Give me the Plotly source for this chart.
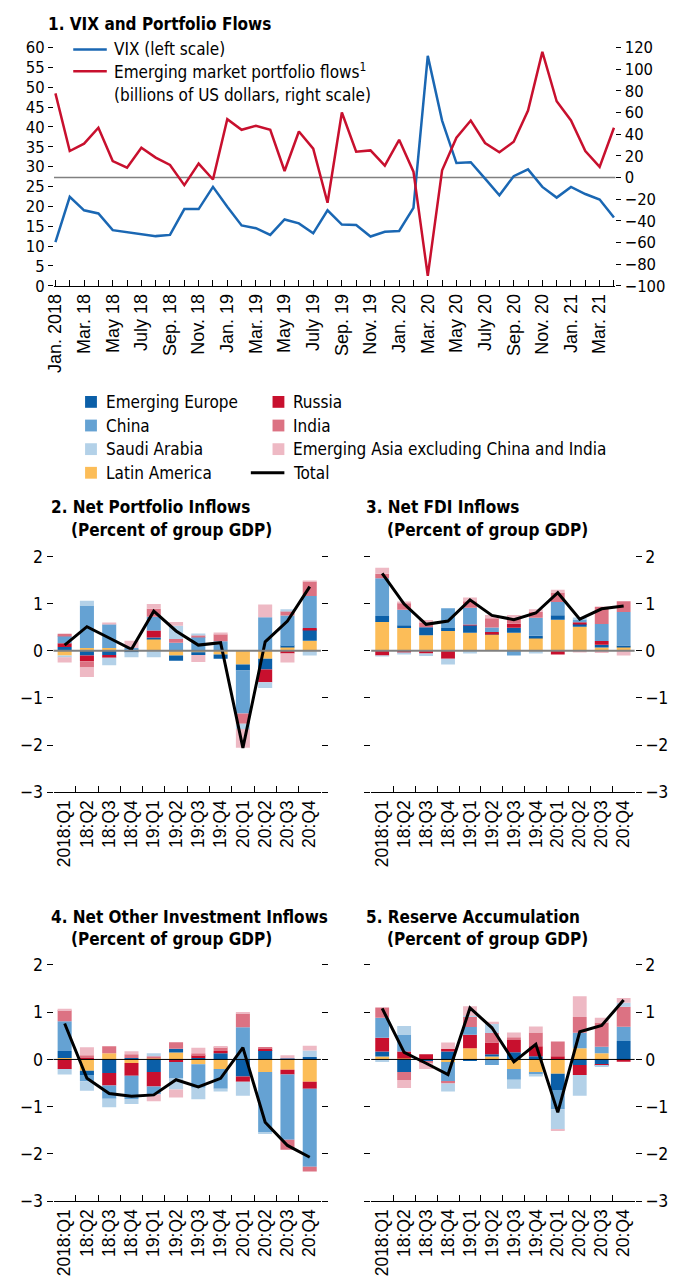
import plotly.graph_objects as go

# page is rendered with an 8px body margin: figure pixel = page pixel - 8
OFF = 8
FW, FH = 681 - OFF, 1286 - OFF

# ---------------- Panel 1 data ----------------
month_labels = ["Jan. 2018", "Mar. 18", "May 18", "July 18", "Sep. 18", "Nov. 18",
                "Jan. 19", "Mar. 19", "May 19", "July 19", "Sep. 19", "Nov. 19",
                "Jan. 20", "Mar. 20", "May 20", "July 20", "Sep. 20", "Nov. 20",
                "Jan. 21", "Mar. 21"]
vix = [11.0, 22.4, 19.0, 18.2, 14.0, 13.5, 13.0, 12.5, 12.8, 19.3, 19.3, 24.9,
       19.9, 15.2, 14.5, 12.8, 16.7, 15.7, 13.2, 19.0, 15.4, 15.3, 12.4, 13.6,
       13.8, 19.6, 57.9, 41.6, 30.9, 31.1, 27.0, 22.8, 27.6, 29.3, 24.9, 22.2,
       24.9, 23.1, 21.7, 17.2]
em_flows = [77.7, 24.4, 31.2, 45.9, 15.2, 9.1, 27.5, 18.3, 11.5, -7.1, 12.8, -1.9,
            53.8, 44.0, 47.7, 44.0, 6.0, 42.5, 26.6, -23.4, 60.0, 23.8, 25.0, 10.9,
            34.8, 5.4, -90.8, 6.6, 36.7, 52.6, 31.8, 23.2, 33.0, 61.8, 116.0, 70.4,
            52.6, 24.4, 9.7, 45.9]

# ---------------- Bar panels data ----------------
quarters = ["2018:Q1", "18:Q2", "18:Q3", "18:Q4", "19:Q1", "19:Q2", "19:Q3", "19:Q4",
            "20:Q1", "20:Q2", "20:Q3", "20:Q4"]
series_names = ["Latin America", "Emerging Europe", "Russia", "China", "India",
                "Saudi Arabia", "Emerging Asia excluding China and India"]

portfolio = {
    "Latin America":   [-0.10, 0.06, 0.06, 0.02, 0.25, -0.10, -0.03, -0.08, -0.29, -0.17, 0.08, 0.21],
    "Emerging Europe": [0.08, -0.10, -0.09, -0.03, 0.03, -0.11, -0.06, -0.09, -0.13, -0.23, 0.02, 0.24],
    "Russia":          [0.08, -0.125, -0.06, 0.0, 0.15, 0.0, 0.0, 0.0, 0.0, -0.27, -0.06, 0.03],
    "China":           [0.16, 0.90, 0.50, 0.04, 0.29, 0.17, 0.29, 0.20, -0.91, 0.71, 0.65, 0.68],
    "India":           [0.04, -0.13, 0.0, 0.0, 0.17, 0.08, 0.04, 0.15, -0.22, 0.0, 0.09, 0.31],
    "Saudi Arabia":    [-0.04, 0.10, -0.16, -0.11, -0.14, 0.28, 0.035, 0.0, -0.11, -0.12, 0.04, -0.10],
    "Emerging Asia excluding China and India":
                       [-0.11, -0.20, 0.02, 0.15, 0.10, 0.08, -0.15, 0.035, -0.40, 0.27, -0.19, 0.015],
}
portfolio_total = [0.12, 0.51, 0.27, 0.03, 0.84, 0.42, 0.12, 0.17, -2.06, 0.19, 0.63, 1.36]

fdi = {
    "Latin America":   [0.61, 0.48, 0.33, 0.42, 0.38, 0.355, 0.38, 0.28, 0.655, 0.51, 0.07, 0.09],
    "Emerging Europe": [0.125, 0.06, 0.17, 0.06, 0.16, 0.01, 0.11, 0.04, 0.10, 0.055, 0.055, 0.02],
    "Russia":          [-0.10, -0.04, -0.06, -0.17, 0.015, 0.03, 0.08, 0.0, -0.08, 0.04, 0.08, 0.0],
    "China":           [0.80, 0.33, 0.0, 0.42, 0.355, 0.10, -0.10, 0.38, 0.28, 0.06, 0.36, 0.71],
    "India":           [0.10, 0.15, 0.10, 0.0, 0.14, 0.195, 0.12, 0.125, 0.20, 0.0, 0.37, 0.23],
    "Saudi Arabia":    [-0.02, -0.035, -0.05, -0.12, -0.06, 0.0, 0.0, -0.06, 0.0, 0.03, 0.0, 0.0],
    "Emerging Asia excluding China and India":
                       [0.125, 0.02, 0.05, 0.0, 0.08, 0.07, 0.07, 0.055, 0.06, -0.03, -0.05, -0.10],
}
fdi_total = [1.64, 0.99, 0.56, 0.63, 1.08, 0.75, 0.66, 0.80, 1.23, 0.67, 0.89, 0.95]

other_inv = {
    "Latin America":   [0.03, -0.24, 0.13, -0.075, 0.02, 0.145, -0.10, -0.20, 0.0, -0.265, -0.22, -0.47],
    "Emerging Europe": [0.15, -0.09, -0.285, 0.03, -0.265, 0.08, 0.03, 0.13, -0.36, 0.20, 0.02, 0.05],
    "Russia":          [-0.20, 0.03, -0.265, -0.27, -0.31, -0.055, 0.06, 0.05, -0.11, 0.03, -0.10, -0.15],
    "China":           [0.63, -0.13, -0.28, -0.49, -0.16, -0.35, -0.50, -0.42, 0.68, -1.27, -1.38, -1.65],
    "India":           [0.23, 0.06, 0.15, 0.08, 0.05, 0.14, 0.04, 0.08, 0.285, 0.015, -0.21, -0.10],
    "Saudi Arabia":    [-0.12, -0.20, -0.18, -0.11, 0.06, -0.23, -0.24, -0.06, -0.30, -0.04, 0.0, 0.14],
    "Emerging Asia excluding China and India":
                       [0.035, 0.17, 0.0, 0.065, -0.15, -0.17, 0.12, 0.02, 0.04, 0.0, 0.07, 0.10],
}
other_inv_total = [0.76, -0.40, -0.72, -0.78, -0.75, -0.43, -0.58, -0.40, 0.25, -1.33, -1.82, -2.07]

reserves = {
    "Latin America":   [0.06, 0.02, 0.0, -0.055, 0.235, 0.06, -0.20, -0.265, -0.305, 0.235, 0.13, 0.0],
    "Emerging Europe": [0.11, -0.265, -0.04, 0.17, -0.03, 0.05, 0.15, 0.07, -0.34, -0.12, -0.11, 0.39],
    "Russia":          [0.29, 0.15, 0.11, 0.05, 0.29, 0.25, 0.26, 0.21, 0.07, -0.21, -0.02, -0.05],
    "China":           [0.42, 0.35, 0.0, -0.42, 0.16, -0.12, -0.23, -0.06, -0.41, 0.33, 0.14, 0.30],
    "India":           [0.21, -0.17, -0.03, -0.035, 0.22, 0.20, 0.06, 0.29, 0.31, 0.335, 0.51, 0.425],
    "Saudi Arabia":    [-0.055, 0.19, 0.0, -0.17, 0.02, 0.21, -0.19, -0.035, -0.43, -0.44, -0.01, 0.085],
    "Emerging Asia excluding China and India":
                       [0.015, -0.17, -0.13, 0.14, 0.20, 0.03, 0.10, 0.125, -0.03, 0.44, 0.10, 0.10],
}
reserves_total = [1.08, 0.15, -0.08, -0.32, 1.09, 0.67, -0.05, 0.32, -1.12, 0.585, 0.72, 1.26]

# ---------------- Styles ----------------
COLORS = {
    "Emerging Europe": "#0b5fa8",
    "China": "#65a2d3",
    "Saudi Arabia": "#b3d1e8",
    "Latin America": "#fcbd58",
    "Russia": "#c8102e",
    "India": "#dc7283",
    "Emerging Asia excluding China and India": "#eeb9c4",
}
VIX_COLOR = "#1a67b3"
FLOW_COLOR = "#c8102e"
COND = "DejaVu Sans Condensed, DejaVu Sans, sans-serif"
REG = "Liberation Sans, Arial, sans-serif"
TXT = 17
TICK = 16.5


def fx(p):
    return (p - OFF) / FW


def fy(p):
    return 1 - (p - OFF) / FH


fig = go.Figure()

# ---------------- Panel 1 ----------------
idx = list(range(len(vix)))
label_vals = idx[::2]

fig.add_trace(go.Scatter(x=idx, y=vix, mode="lines", name="VIX (left scale)",
                         line=dict(color=VIX_COLOR, width=2.5), xaxis="x", yaxis="y",
                         showlegend=False))
fig.add_trace(go.Scatter(x=idx, y=em_flows, mode="lines", name="Emerging market portfolio flows",
                         line=dict(color=FLOW_COLOR, width=2.5), xaxis="x", yaxis="y2",
                         showlegend=False))

layout = dict(
    width=FW, height=FH, autosize=False,
    margin=dict(l=0, r=0, t=0, b=0),
    paper_bgcolor="white", plot_bgcolor="white",
    barmode="relative", bargap=0.37,
    font=dict(family=COND, size=TXT, color="black"),
    showlegend=False,
    xaxis=dict(domain=[fx(45.5), fx(614.5)], range=[-0.1, 39.1], tickmode="array",
               tickvals=label_vals, ticktext=month_labels, ticks="inside", ticklen=6,
               tickwidth=1, tickcolor="black",
               minor=dict(ticks="inside", tick0=0, dtick=1, ticklen=6, tickwidth=1,
                          tickcolor="black", showgrid=False),
               showline=True, linecolor="black", linewidth=1,
               showgrid=False, zeroline=False, tickangle=-90,
               tickfont=dict(family=REG, size=18), anchor="y"),
    yaxis=dict(domain=[fy(280), fy(38)], range=[0, 60], dtick=5, ticks="outside",
               ticklen=5, tickcolor="black", showgrid=False, zeroline=False,
               showline=False, tickfont=dict(family=COND, size=TICK), anchor="x"),
    yaxis2=dict(overlaying="y", side="right", range=[-100, 120], dtick=20,
                ticks="outside", ticklen=5, tickcolor="black", showgrid=False,
                zeroline=False, showline=False, tickfont=dict(family=COND, size=TICK),
                anchor="x"),
)

shapes = [dict(type="line", xref="x domain", yref="y2", x0=0, x1=1, y0=0, y1=0,
               line=dict(color="#808080", width=1.5), layer="below")]
annotations = []

# ---------------- Bar panels ----------------
panels = [
    dict(data=portfolio, total=portfolio_total, xa="x2", ya="y3", xd=(45, 316), yd=(555, 794.5),
         side="left", zc="#808080", zw=2,
         title="2. Net Portfolio Inflows", tx=40, ty=505),
    dict(data=fdi, total=fdi_total, xa="x3", ya="y4", xd=(367, 634), yd=(555, 794.5),
         side="right", zc="#808080", zw=2,
         title="3. Net FDI Inflows", tx=360, ty=505),
    dict(data=other_inv, total=other_inv_total, xa="x4", ya="y5", xd=(45, 316), yd=(970, 1210),
         side="left", zc="#000000", zw=1,
         title="4. Net Other Investment Inflows", tx=40, ty=921),
    dict(data=reserves, total=reserves_total, xa="x5", ya="y6", xd=(367, 634), yd=(970, 1210),
         side="right", zc="#000000", zw=1,
         title="5. Reserve Accumulation", tx=360, ty=921),
]

for p in panels:
    for name in series_names:
        fig.add_trace(go.Bar(x=quarters, y=p["data"][name], name=name,
                             marker=dict(color=COLORS[name], line=dict(width=0)),
                             xaxis=p["xa"], yaxis=p["ya"], showlegend=False))
    fig.add_trace(go.Scatter(x=quarters, y=p["total"], mode="lines", name="Total",
                             line=dict(color="black", width=3),
                             xaxis=p["xa"], yaxis=p["ya"], showlegend=False))
    xkey = "xaxis" + p["xa"][1:]
    ykey = "yaxis" + p["ya"][1:]
    layout[xkey] = dict(domain=[fx(p["xd"][0]), fx(p["xd"][1])], type="category",
                        categoryorder="array", categoryarray=quarters,
                        tickmode="array", tickvals=quarters, ticktext=quarters,
                        range=[-0.5, 11.5], tickson="boundaries", ticks="inside",
                        ticklen=6, tickcolor="black", showline=True, linecolor="black",
                        linewidth=1, showgrid=False, zeroline=False, tickangle=-90,
                        tickfont=dict(family=REG, size=17.5), anchor=p["ya"])
    layout[ykey] = dict(domain=[fy(p["yd"][1]), fy(p["yd"][0])], range=[-3, 2], dtick=1,
                        side=p["side"], mirror="ticks", ticks="outside", ticklen=6,
                        tickcolor="black", showgrid=False, zeroline=False, showline=False,
                        tickfont=dict(family=COND, size=TICK + 1), anchor=p["xa"])
    shapes.append(dict(type="line", xref=p["xa"] + " domain", yref=p["ya"], x0=0, x1=1,
                       y0=0, y1=0, line=dict(color=p["zc"], width=p["zw"]), layer="above"))
    annotations.append(dict(text="<b>" + p["title"] + "</b>", x=fx(p["tx"]), y=fy(p["ty"]),
                            xref="paper", yref="paper", xanchor="left", yanchor="middle",
                            showarrow=False, font=dict(family=COND, size=TXT)))
    annotations.append(dict(text="<b>(Percent of group GDP)</b>", x=fx(p["tx"] + 21),
                            y=fy(p["ty"] + 23), xref="paper", yref="paper", xanchor="left",
                            yanchor="middle", showarrow=False, font=dict(family=COND, size=TXT)))

# Panel 1 title
annotations.append(dict(text="<b>1. VIX and Portfolio Flows</b>", x=fx(37), y=fy(14),
                        xref="paper", yref="paper", xanchor="left", yanchor="middle",
                        showarrow=False, font=dict(family=COND, size=TXT)))

# Panel 1 legend (drawn manually)
top_legend = [("VIX (left scale)", VIX_COLOR, 40),
              ("Emerging market portfolio flows<sup>1</sup>", FLOW_COLOR, 62)]
for text, col, yy in top_legend:
    shapes.append(dict(type="line", xref="paper", yref="paper", x0=fx(65), x1=fx(99),
                       y0=fy(yy), y1=fy(yy), line=dict(color=col, width=2.5)))
    annotations.append(dict(text=text, x=fx(104), y=fy(yy), xref="paper", yref="paper",
                            xanchor="left", yanchor="middle", showarrow=False,
                            font=dict(family=COND, size=TXT)))
annotations.append(dict(text="(billions of US dollars, right scale)", x=fx(104), y=fy(86),
                        xref="paper", yref="paper", xanchor="left", yanchor="middle",
                        showarrow=False, font=dict(family=COND, size=TXT)))

# Bar legend (drawn manually, two columns)
legend_cols = [
    (77, ["Emerging Europe", "China", "Saudi Arabia", "Latin America"]),
    (267, ["Russia", "India", "Emerging Asia excluding China and India", "Total"]),
]
row_y = [398, 422, 446, 470]
for colx, names in legend_cols:
    for name, yy in zip(names, row_y):
        if name == "Total":
            shapes.append(dict(type="line", xref="paper", yref="paper", x0=fx(colx - 22),
                               x1=fx(colx + 12), y0=fy(yy), y1=fy(yy),
                               line=dict(color="black", width=3)))
        else:
            shapes.append(dict(type="rect", xref="paper", yref="paper", x0=fx(colx),
                               x1=fx(colx + 12), y0=fy(yy + 6), y1=fy(yy - 6),
                               fillcolor=COLORS[name], line=dict(width=0)))
        annotations.append(dict(text=name, x=fx(colx + 19), y=fy(yy), xref="paper",
                                yref="paper", xanchor="left", yanchor="middle",
                                showarrow=False, font=dict(family=COND, size=TXT)))

layout["shapes"] = shapes
layout["annotations"] = annotations
fig.update_layout(**layout)

fig.write_html("out.html")
